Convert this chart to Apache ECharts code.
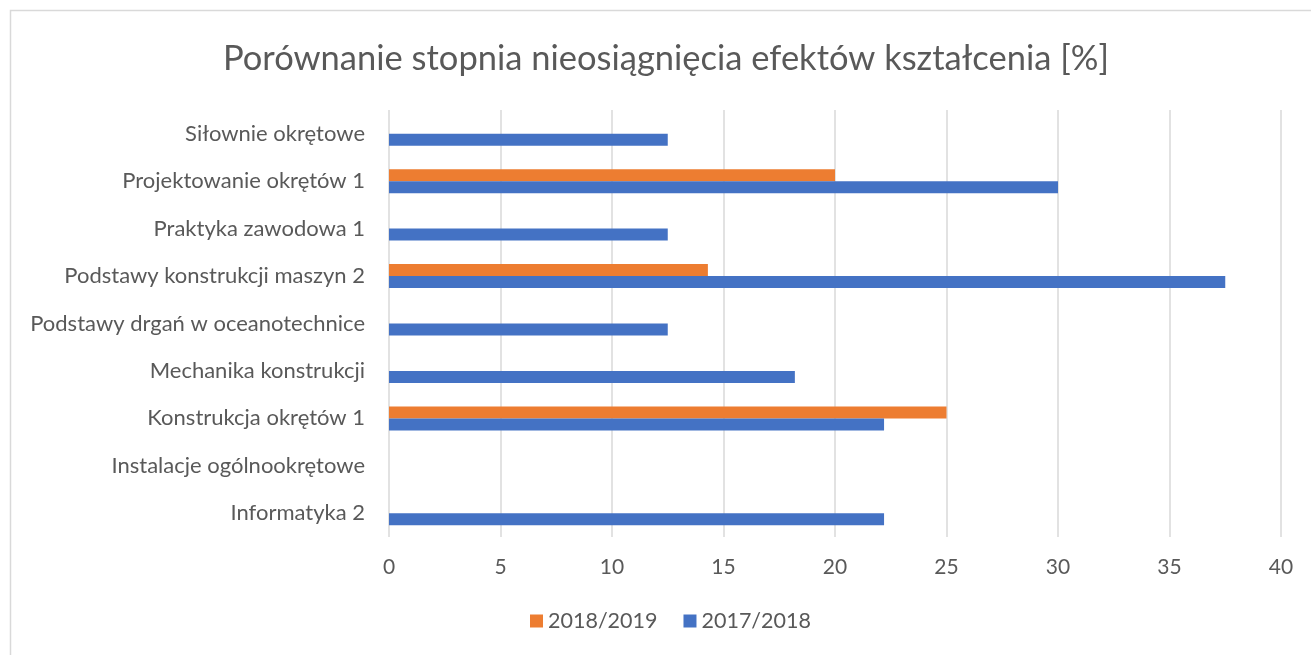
<!DOCTYPE html>
<html>
<head>
<meta charset="utf-8">
<script src="https://cdn.jsdelivr.net/npm/echarts@6/dist/echarts.min.js"></script>
<style>
  html, body { margin: 0; padding: 0; background: #fff; }
  #chart { width: 1311px; height: 655px; }
</style>
</head>
<body>
<div id="chart"></div>
<script>
// categories listed bottom to top (category axis starts at the bottom)
let subjects = [
    'Informatyka 2',
    'Instalacje ogólnookrętowe',
    'Konstrukcja okrętów 1',
    'Mechanika konstrukcji',
    'Podstawy drgań w oceanotechnice',
    'Podstawy konstrukcji maszyn 2',
    'Praktyka zawodowa 1',
    'Projektowanie okrętów 1',
    'Siłownie okrętowe'
];
let year1718 = [22.2, null, 22.2, 18.2, 12.5, 37.5, 12.5, 30, 12.5];
let year1819 = [null, null, 25, null, null, 14.3, null, 20, null];
let seriesNames = ['2018/2019', '2017/2018'];

let font = 'Lato, "Open Sans", sans-serif';

let option = {
    animation: false,
    title: {
        text: 'Porównanie stopnia nieosiągnięcia efektów kształcenia [%]',
        left: 218,
        top: 36,
        textStyle: { fontFamily: font, fontSize: 34.5, fontWeight: 'normal', color: '#595959' }
    },
    legend: {
        data: seriesNames,
        bottom: 18,
        left: 525,
        itemWidth: 13,
        itemHeight: 13,
        itemGap: 26,
        icon: 'rect',
        textStyle: { fontFamily: font, fontSize: 21.5, color: '#595959' }
    },
    grid: {
        left: 389,
        right: 30,
        top: 110,
        bottom: 118,
        containLabel: false
    },
    xAxis: {
        type: 'value',
        min: 0,
        max: 40,
        interval: 5,
        axisLine: { show: false },
        axisTick: { show: false },
        axisLabel: { fontFamily: font, fontSize: 21, color: '#595959', margin: 20 },
        splitLine: { lineStyle: { color: '#d9d9d9', width: 1.5 } }
    },
    yAxis: {
        type: 'category',
        data: subjects,
        axisLine: { show: false },
        axisTick: { show: false },
        axisLabel: { fontFamily: font, fontSize: 22, color: '#595959', margin: 24 }
    },
    graphic: [{
        type: 'rect',
        shape: { x: 10.5, y: 10.5, width: 1320, height: 660 },
        style: { fill: 'none', stroke: '#d9d9d9', lineWidth: 1.5 },
        silent: true
    }],
    series: [{
        name: '2018/2019',
        type: 'bar',
        data: year1819,
        barWidth: 12,
        barGap: '0%',
        itemStyle: { color: '#ED7D31' }
    }, {
        name: '2017/2018',
        type: 'bar',
        data: year1718,
        barWidth: 12,
        barGap: '0%',
        itemStyle: { color: '#4472C4' }
    }]
};

let myChart = echarts.init(document.getElementById('chart'));
myChart.setOption(option);
</script>
</body>
</html>
